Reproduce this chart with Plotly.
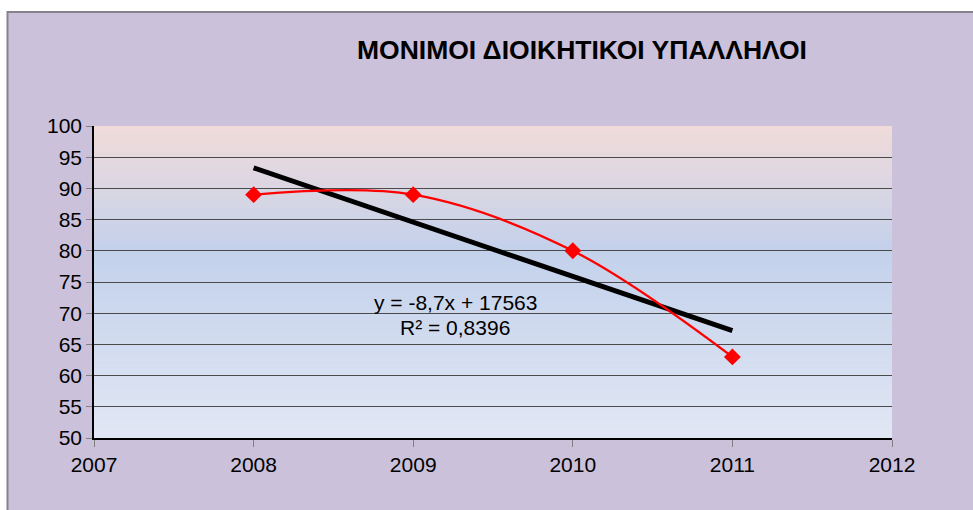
import numpy as np
import plotly.graph_objects as go

# ---- data ----
years = [2008, 2009, 2010, 2011]
values = [89, 89, 80, 63]
title_text = "ΜΟΝΙΜΟΙ ΔΙΟΙΚΗΤΙΚΟΙ ΥΠΑΛΛΗΛΟΙ"
x_ticks = [2007, 2008, 2009, 2010, 2011, 2012]
y_ticks = [50, 55, 60, 65, 70, 75, 80, 85, 90, 95, 100]

# ---- linear trendline (computed) ----
x_arr = np.array(years, dtype=float)
y_arr = np.array(values, dtype=float)
slope, intercept = np.polyfit(x_arr, y_arr, 1)
fit = slope * x_arr + intercept
r2 = 1 - np.sum((y_arr - fit) ** 2) / np.sum((y_arr - y_arr.mean()) ** 2)
eq_text = "y = {}x + {}".format(("%.1f" % slope).replace(".", ","), "%d" % round(intercept))
r2_text = "R² = {}".format(("%.4f" % r2).replace(".", ","))

W, H = 973, 510
L, R, T, B = 94, 81, 126, 72
pw, ph = W - L - R, H - T - B

def px_x(p):
    return (p - L) / pw

def px_y(p):
    return (H - B - p) / ph

FONT = "Liberation Sans, Arial, sans-serif"

fig = go.Figure()

fig.add_trace(go.Scatter(
    x=years, y=[float(v) for v in fit], mode="lines",
    line=dict(color="black", width=5), hoverinfo="skip", showlegend=False))

fig.add_trace(go.Scatter(
    x=years, y=values, mode="lines+markers",
    line=dict(color="#FF0000", width=2.3, shape="spline", smoothing=1),
    marker=dict(symbol="diamond", size=13, color="#FF0000"),
    showlegend=False))

shapes = []
# chart area background with border
shapes.append(dict(type="rect", xref="paper", yref="paper",
                   x0=px_x(7.5), x1=px_x(W + 5), y0=px_y(H + 5), y1=px_y(12),
                   fillcolor="#CBC1DA", line=dict(color="#85818F", width=2), layer="below"))

# gradient plot background (decorative strips)
stops = [(0.0, (225, 231, 244)), (0.6, (195, 209, 235)), (1.0, (241, 219, 218))]

def col_at(t):
    for (a, ca), (b, cb) in zip(stops[:-1], stops[1:]):
        if a <= t <= b:
            f = (t - a) / (b - a)
            return "rgb(%d,%d,%d)" % tuple(round(ca[i] + (cb[i] - ca[i]) * f) for i in range(3))
    return "rgb(%d,%d,%d)" % stops[-1][1]

n = 80
for i in range(n):
    y0 = i / n
    y1 = (i + 1) / n + 0.002
    shapes.append(dict(type="rect", xref="x domain", yref="y domain",
                       x0=0, x1=1, y0=y0, y1=min(y1, 1),
                       fillcolor=col_at((i + 0.5) / n), line=dict(width=0), layer="below"))

fig.update_layout(
    width=W, height=H,
    margin=dict(l=L, r=R, t=T, b=B),
    paper_bgcolor="white",
    plot_bgcolor="rgba(0,0,0,0)",
    font=dict(family=FONT, size=21, color="black"),
    shapes=shapes,
    annotations=[
        dict(text="<b>" + title_text + "</b>", xref="paper", yref="paper",
             x=px_x(582), y=px_y(50), showarrow=False,
             font=dict(family=FONT, size=26.5, color="black"), xanchor="center", yanchor="middle"),
        dict(text=eq_text, xref="paper", yref="paper", x=px_x(455), y=px_y(302),
             showarrow=False, font=dict(family=FONT, size=21, color="black"),
             xanchor="center", yanchor="middle"),
        dict(text=r2_text, xref="paper", yref="paper", x=px_x(455), y=px_y(327),
             showarrow=False, font=dict(family=FONT, size=21, color="black"),
             xanchor="center", yanchor="middle"),
    ],
)

fig.update_xaxes(range=[2007, 2012], tickvals=x_ticks, ticktext=[str(v) for v in x_ticks],
                 showgrid=False, zeroline=False,
                 showline=True, linecolor="black", linewidth=1.5,
                 ticks="outside", ticklen=7, tickcolor="#808080", tickwidth=1,
                 tickfont=dict(family=FONT, size=21, color="black"))
fig.update_yaxes(range=[50, 100], tickvals=y_ticks, ticktext=[str(v) for v in y_ticks],
                 showgrid=True, gridcolor="#4A4A4A", gridwidth=1, zeroline=False,
                 showline=True, linecolor="black", linewidth=1.5,
                 ticks="outside", ticklen=6, tickcolor="#808080", tickwidth=1,
                 tickfont=dict(family=FONT, size=21, color="black"))

fig.write_html("out.html", config={"displayModeBar": False},
               post_script="document.body.style.margin='0';document.body.style.overflow='hidden';")
